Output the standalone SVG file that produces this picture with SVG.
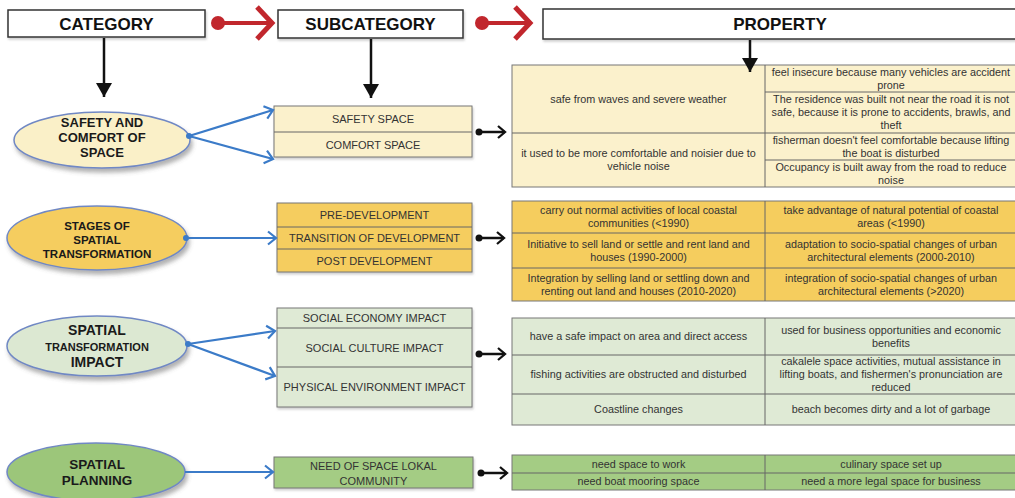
<svg xmlns="http://www.w3.org/2000/svg" width="1015" height="498" viewBox="0 0 1015 498">
<defs>
<style>
.hdr{fill:#fff;stroke:#333;stroke-width:1.5}
.hdrt{font-family:"Liberation Sans",Arial,sans-serif;font-weight:bold;font-size:17px;fill:#111;text-anchor:middle}
.ell{stroke:#7088c4;stroke-width:1.5}
.et{font-family:"Liberation Sans",Arial,sans-serif;font-weight:bold;fill:#1a1a1a;text-anchor:middle}
.box{stroke:#777;stroke-width:1}
.bt{font-family:"Liberation Sans",Arial,sans-serif;font-size:11px;fill:#333;text-anchor:middle}
.tt{font-family:"Liberation Sans",Arial,sans-serif;font-size:10.8px;fill:#333;text-anchor:middle}
.grid{stroke:#666;stroke-width:1;fill:none}
.blue{stroke:#3b7bc8;stroke-width:2.2;fill:none}
.blk{stroke:#111;stroke-width:2.5;fill:none}
.red{stroke:#c1272d;fill:none}
.cream{fill:#fbf1cc}
.gold{fill:#f5cd5e}
.lgreen{fill:#dfead5}
.green{fill:#a4cc84}
</style>
<filter id="sh" x="-10%" y="-10%" width="130%" height="140%">
<feDropShadow dx="2" dy="4" stdDeviation="2" flood-color="#555" flood-opacity="0.45"/>
</filter>
<filter id="sh2" x="-5%" y="-10%" width="110%" height="130%">
<feDropShadow dx="1" dy="2" stdDeviation="1" flood-color="#777" flood-opacity="0.35"/>
</filter>
<marker id="ba" markerWidth="12" markerHeight="16" refX="10" refY="8" orient="auto" markerUnits="userSpaceOnUse">
<path d="M2,1.5 L10,8 L2,14.5" fill="none" stroke="#3b7bc8" stroke-width="2.2"/>
</marker>
<marker id="ka" markerWidth="12" markerHeight="16" refX="10" refY="8" orient="auto" markerUnits="userSpaceOnUse">
<path d="M3,2 L10,8 L3,14" fill="none" stroke="#111" stroke-width="2.3"/>
</marker>
<marker id="down" markerWidth="18" markerHeight="16" refX="9" refY="14" orient="0" markerUnits="userSpaceOnUse">
<path d="M1,0 L17,0 L9,14 Z" fill="#111"/>
</marker>
</defs>

<!-- headers -->
<g id="hdr-category"><rect class="hdr" x="8" y="10" width="197" height="27" filter="url(#sh2)"/><text class="hdrt" x="106.5" y="29.5">CATEGORY</text></g>
<g id="hdr-subcategory"><rect class="hdr" x="278" y="10" width="185" height="28" filter="url(#sh2)"/><text class="hdrt" x="370.5" y="30">SUBCATEGORY</text></g>
<g id="hdr-property"><rect class="hdr" x="543" y="9" width="475" height="30" filter="url(#sh2)"/><text class="hdrt" x="780" y="30">PROPERTY</text></g>

<!-- category ellipses -->
<g id="cat-safety"><ellipse class="ell" cx="102" cy="140" rx="88" ry="28" fill="#faf0c8" filter="url(#sh)"/>
<text class="et" font-size="13" x="102" y="126.5">SAFETY AND</text><text class="et" font-size="13" x="102" y="141.5">COMFORT OF</text><text class="et" font-size="13" x="102" y="156.5">SPACE</text></g>
<g id="cat-stages"><ellipse class="ell" cx="97" cy="238" rx="90" ry="32" fill="#f5cd5e" filter="url(#sh)"/>
<text class="et" font-size="11.5" x="97" y="230">STAGES OF</text><text class="et" font-size="11.5" x="97" y="244">SPATIAL</text><text class="et" font-size="11.5" x="97" y="258">TRANSFORMATION</text></g>
<g id="cat-impact"><ellipse class="ell" cx="97" cy="346" rx="90" ry="30" fill="#dce8d2" filter="url(#sh)"/>
<text class="et" font-size="14" x="97" y="335">SPATIAL</text><text class="et" font-size="11" x="97" y="351">TRANSFORMATION</text><text class="et" font-size="14" x="97" y="367">IMPACT</text></g>
<g id="cat-planning"><ellipse class="ell" cx="96" cy="472" rx="89" ry="29" fill="#9cc67a" filter="url(#sh)"/>
<text class="et" font-size="13.5" x="97" y="469">SPATIAL</text><text class="et" font-size="13.5" x="97" y="485">PLANNING</text></g>

<!-- subcategory boxes -->
<g id="sub-safety"><rect class="box cream" x="274" y="106" width="198" height="51" filter="url(#sh2)"/><line class="grid" x1="274" y1="132" x2="472" y2="132"/>
<text class="bt" x="373" y="123">SAFETY SPACE</text><text class="bt" x="373" y="148.5">COMFORT SPACE</text></g>
<g id="sub-stages"><rect class="box gold" x="277" y="203" width="195" height="69" filter="url(#sh2)"/><line class="grid" x1="277" y1="227" x2="472" y2="227"/><line class="grid" x1="277" y1="249" x2="472" y2="249"/>
<text class="bt" x="374.5" y="219">PRE-DEVELOPMENT</text><text class="bt" x="374.5" y="242">TRANSITION OF DEVELOPMENT</text><text class="bt" x="374.5" y="264.5">POST DEVELOPMENT</text></g>
<g id="sub-impact"><rect class="box lgreen" x="277" y="308" width="195" height="99" filter="url(#sh2)"/><line class="grid" x1="277" y1="328" x2="472" y2="328"/><line class="grid" x1="277" y1="367" x2="472" y2="367"/>
<text class="bt" x="374.5" y="322">SOCIAL ECONOMY IMPACT</text><text class="bt" x="374.5" y="351.5">SOCIAL CULTURE IMPACT</text><text class="bt" x="374.5" y="391">PHYSICAL ENVIRONMENT IMPACT</text></g>
<g id="sub-planning"><rect class="box green" x="274" y="457" width="199" height="31" filter="url(#sh2)"/>
<text class="bt" x="373.5" y="469.5">NEED OF SPACE LOKAL</text><text class="bt" x="373.5" y="484.5">COMMUNITY</text></g>

<!-- property tables -->
<g id="prop-safety"><rect class="box cream" x="512" y="65" width="505" height="122"/>
<line class="grid" x1="765" y1="65" x2="765" y2="187"/><line class="grid" x1="512" y1="133" x2="1017" y2="133"/><line class="grid" x1="765" y1="92" x2="1017" y2="92"/><line class="grid" x1="765" y1="160" x2="1017" y2="160"/>
<text class="tt" x="638.5" y="102.5">safe from waves and severe weather</text>
<text class="tt" x="638.5" y="157">it used to be more comfortable and noisier due to</text><text class="tt" x="638.5" y="170">vehicle noise</text>
<text class="tt" x="891" y="75.5">feel insecure because many vehicles are accident</text><text class="tt" x="891" y="88.5">prone</text>
<text class="tt" x="891" y="103">The residence was built not near the road it is not</text><text class="tt" x="891" y="116">safe, because it is prone to accidents, brawls, and</text><text class="tt" x="891" y="129">theft</text>
<text class="tt" x="891" y="143.5">fisherman doesn't feel comfortable because lifting</text><text class="tt" x="891" y="156.5">the boat is disturbed</text>
<text class="tt" x="891" y="170.5">Occupancy is built away from the road to reduce</text><text class="tt" x="891" y="183.5">noise</text></g>

<g id="prop-stages"><rect class="box gold" x="512" y="201" width="505" height="100"/>
<line class="grid" x1="765" y1="201" x2="765" y2="301"/><line class="grid" x1="512" y1="233" x2="1017" y2="233"/><line class="grid" x1="512" y1="268" x2="1017" y2="268"/>
<text class="tt" x="638.5" y="214">carry out normal activities of local coastal</text><text class="tt" x="638.5" y="227">communities (&lt;1990)</text>
<text class="tt" x="638.5" y="247.5">Initiative to sell land or settle and rent land and</text><text class="tt" x="638.5" y="260.5">houses (1990-2000)</text>
<text class="tt" x="638.5" y="281.5">Integration by selling land or settling down and</text><text class="tt" x="638.5" y="294.5">renting out land and houses (2010-2020)</text>
<text class="tt" x="891" y="214">take advantage of natural potential of coastal</text><text class="tt" x="891" y="227">areas (&lt;1990)</text>
<text class="tt" x="891" y="247.5">adaptation to socio-spatial changes of urban</text><text class="tt" x="891" y="260.5">architectural elements (2000-2010)</text>
<text class="tt" x="891" y="281.5">integration of socio-spatial changes of urban</text><text class="tt" x="891" y="294.5">architectural elements (&gt;2020)</text></g>

<g id="prop-impact"><rect class="box lgreen" x="512" y="318" width="505" height="107"/>
<line class="grid" x1="765" y1="318" x2="765" y2="425"/><line class="grid" x1="512" y1="355" x2="1017" y2="355"/><line class="grid" x1="512" y1="394" x2="1017" y2="394"/>
<text class="tt" x="638.5" y="340">have a safe impact on area and direct access</text>
<text class="tt" x="638.5" y="378">fishing activities are obstructed and disturbed</text>
<text class="tt" x="638.5" y="413">Coastline changes</text>
<text class="tt" x="891" y="333.5">used for business opportunities and economic</text><text class="tt" x="891" y="346.5">benefits</text>
<text class="tt" x="891" y="365">cakalele space activities, mutual assistance in</text><text class="tt" x="891" y="378">lifting boats, and fishermen's pronunciation are</text><text class="tt" x="891" y="391">reduced</text>
<text class="tt" x="891" y="413">beach becomes dirty and a lot of garbage</text></g>

<g id="prop-planning"><rect class="box green" x="512" y="455" width="505" height="35"/>
<line class="grid" x1="765" y1="455" x2="765" y2="490"/><line class="grid" x1="512" y1="473" x2="1017" y2="473"/>
<text class="tt" x="638.5" y="467.5">need space to work</text><text class="tt" x="638.5" y="485">need boat mooring space</text>
<text class="tt" x="891" y="467.5">culinary space set up</text><text class="tt" x="891" y="485">need a more legal space for business</text></g>

<!-- connectors -->
<g id="connectors">
<!-- red header arrows -->
<circle cx="218" cy="23" r="7" fill="#c1272d"/><line class="red" stroke-width="4" x1="218" y1="23" x2="270" y2="23"/><path class="red" stroke-width="5" d="M257,7 L272,23 L257,39"/>
<circle cx="482" cy="23" r="7" fill="#c1272d"/><line class="red" stroke-width="4" x1="482" y1="23" x2="527" y2="23"/><path class="red" stroke-width="5" d="M515,7 L530,23 L515,39"/>
<!-- black down arrows -->
<line class="blk" stroke-width="3" x1="104" y1="38" x2="104" y2="97" marker-end="url(#down)"/>
<line class="blk" stroke-width="3" x1="371" y1="39" x2="371" y2="98" marker-end="url(#down)"/>
<line class="blk" stroke-width="3" x1="750" y1="40" x2="750" y2="72" marker-end="url(#down)"/>
<!-- blue category to subcategory -->
<circle cx="189" cy="136" r="3" fill="#3b7bc8"/>
<line class="blue" x1="189" y1="136" x2="273" y2="110" marker-end="url(#ba)"/>
<line class="blue" x1="189" y1="136" x2="273" y2="159" marker-end="url(#ba)"/>
<circle cx="186" cy="238" r="3" fill="#3b7bc8"/>
<line class="blue" x1="186" y1="238" x2="276" y2="238" marker-end="url(#ba)"/>
<circle cx="188" cy="344" r="3" fill="#3b7bc8"/>
<line class="blue" x1="188" y1="344" x2="275" y2="331" marker-end="url(#ba)"/>
<line class="blue" x1="188" y1="344" x2="275" y2="376" marker-end="url(#ba)"/>
<line class="blue" x1="185" y1="472" x2="273" y2="472" marker-end="url(#ba)"/>
<!-- black subcategory to property -->
<circle cx="479" cy="132" r="3.5" fill="#111"/><line class="blk" x1="479" y1="132" x2="505" y2="132" marker-end="url(#ka)"/>
<circle cx="479" cy="238" r="3.5" fill="#111"/><line class="blk" x1="479" y1="238" x2="504" y2="238" marker-end="url(#ka)"/>
<circle cx="479" cy="354" r="3.5" fill="#111"/><line class="blk" x1="479" y1="354" x2="505" y2="354" marker-end="url(#ka)"/>
<circle cx="481" cy="473" r="3.5" fill="#111"/><line class="blk" x1="481" y1="473" x2="507" y2="473" marker-end="url(#ka)"/>
</g>
</svg>
